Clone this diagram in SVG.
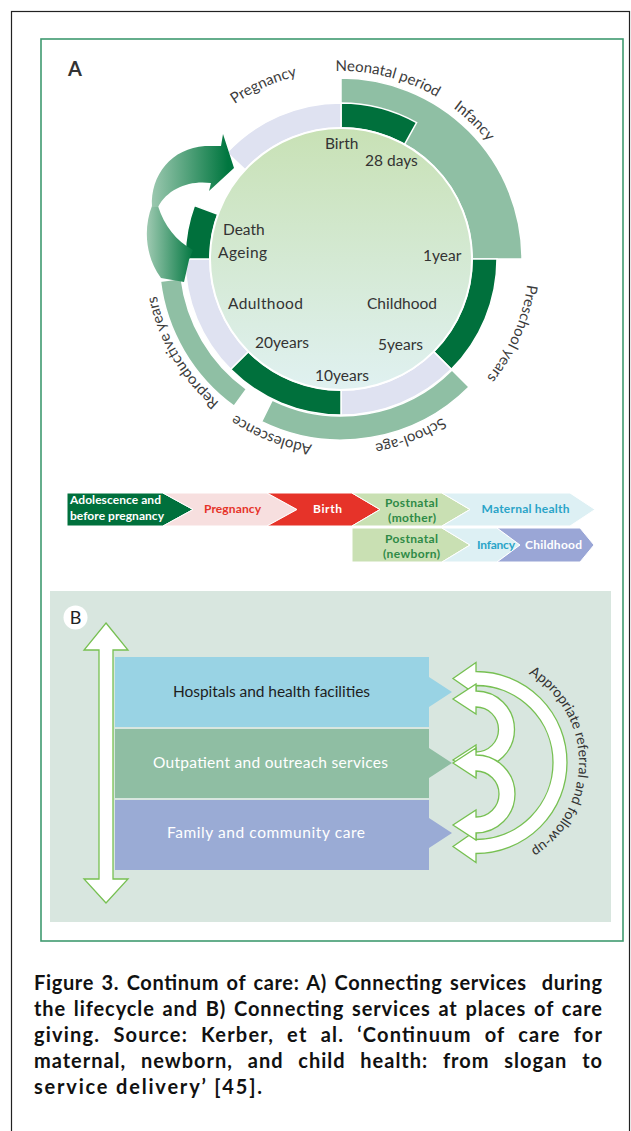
<svg xmlns="http://www.w3.org/2000/svg" width="631" height="1131" viewBox="0 0 631 1131">
<defs>
<style>
.ring{font-family:Lato,"Liberation Sans",sans-serif;font-size:15px;fill:#3c3c3c}
.inn{font-family:Lato,"Liberation Sans",sans-serif;font-size:15.5px;fill:#333}
.dk{fill:#00703c;stroke:#fff;stroke-width:1.5}
.sg{fill:#8fbfa4;stroke:#fff;stroke-width:1.5}
.lv{fill:#dfe2f1;stroke:#fff;stroke-width:1.5}
.bar{font-family:Lato,"Liberation Sans",sans-serif;font-weight:bold;font-size:12px}
.chev{stroke:#fff;stroke-width:1}
.wa{fill:#fff;stroke:#77c052;stroke-width:1.3;stroke-linejoin:miter}
.band{font-family:Lato,"Liberation Sans",sans-serif;font-size:15.5px}
.cap{font-family:Lato,"Liberation Sans",sans-serif;font-weight:bold;font-size:20px;fill:#111}
</style>
<linearGradient id="gIn" x1="0" y1="0" x2="0" y2="1">
<stop offset="0" stop-color="#c8e1b5"/>
<stop offset="1" stop-color="#e0f1f1"/>
</linearGradient>
<linearGradient id="gUp" gradientUnits="userSpaceOnUse" x1="150" y1="0" x2="228" y2="0">
<stop offset="0" stop-color="#9fcab2"/>
<stop offset="1" stop-color="#00763f"/>
</linearGradient>
<linearGradient id="gLo" gradientUnits="userSpaceOnUse" x1="145" y1="0" x2="194" y2="0">
<stop offset="0" stop-color="#a5cdb6"/>
<stop offset="1" stop-color="#00763f"/>
</linearGradient>
<path id="ringPath" d="M341,447 A188,188 0 1 1 341,71 A188,188 0 1 1 341,447"/>
<path id="refPath" d="M476,659.5 A103,103 0 0 1 476,865.5"/>
</defs>

<rect width="631" height="1131" fill="#fff"/>
<rect x="11.5" y="11.5" width="618" height="1140" fill="none" stroke="#222" stroke-width="1.2"/>
<rect x="41" y="39" width="582" height="902" fill="none" stroke="#3f9a70" stroke-width="1.6"/>

<g id="panelA">
<text x="68" y="76" font-family="Lato,'Liberation Sans',sans-serif" font-size="20" font-weight="bold" fill="#333">A</text>

<g id="rings">
<path class="sg" d="M341,78 A181,181 0 0 1 522,259 L472,259 A131,131 0 0 0 341,128 Z"/>
<path class="dk" d="M341,103 A156,156 0 0 1 416.6,122.6 L404.5,144.4 A131,131 0 0 0 341,128 Z"/>
<path class="dk" d="M497,259 A156,156 0 0 1 451.3,369.3 L433.6,351.6 A131,131 0 0 0 472,259 Z"/>
<path class="lv" d="M451.3,369.3 A156,156 0 0 1 341,415 L341,390 A131,131 0 0 0 433.6,351.6 Z"/>
<path class="dk" d="M341,415 A156,156 0 0 1 230.7,369.3 L248.4,351.6 A131,131 0 0 0 341,390 Z"/>
<path class="lv" d="M230.7,369.3 A156,156 0 0 1 185,259 L210,259 A131,131 0 0 0 248.4,351.6 Z"/>
<path class="dk" d="M185,259 A156,156 0 0 1 194.4,205.6 L217.9,214.2 A131,131 0 0 0 210,259 Z"/>
<path class="lv" d="M226.9,152.6 A156,156 0 0 1 341,103 L341,128 A131,131 0 0 0 245.2,169.7 Z"/>
<path class="sg" d="M469,387 A181,181 0 0 1 261.6,421.7 L272.2,400.1 A157,157 0 0 0 452,370 Z"/>
<path class="sg" d="M234,406.2 A182,182 0 0 1 160.4,281.2 L181.2,278.6 A161,161 0 0 0 246.4,389.2 Z"/>
</g>

<g id="cycleArrow">
<path fill="url(#gLo)" d="M152,206 C144,226 144,255 161,278 L184,282 L189,260 L193,250 C176,241 164,225 158,206 Z"/>
<path fill="url(#gUp)" d="M152,207 C150,175 172,148 205,146 L221,146 L223,134 L234,168 L209,191 L211,183 C190,180 168,188 158,207 Z"/>
</g>

<g id="innerCircle">
<circle cx="341" cy="259" r="131" fill="url(#gIn)" stroke="#fff" stroke-width="2"/>
<text class="inn" x="325" y="149">Birth</text>
<text class="inn" x="365" y="166">28 days</text>
<text class="inn" x="223" y="235">Death</text>
<text class="inn" x="218" y="258" letter-spacing="0.4">Ageing</text>
<text class="inn" x="423" y="261">1year</text>
<text class="inn" x="228" y="309" letter-spacing="0.4">Adulthood</text>
<text class="inn" x="367" y="309">Childhood</text>
<text class="inn" x="255" y="348">20years</text>
<text class="inn" x="378" y="350">5years</text>
<text class="inn" x="315" y="381">10years</text>
</g>

<g id="ringLabels">
<text class="ring" text-anchor="middle"><textPath href="#ringPath" startOffset="43.33%">Pregnancy</textPath></text>
<text class="ring" text-anchor="middle"><textPath href="#ringPath" startOffset="54.03%">Neonatal period</textPath></text>
<text class="ring" text-anchor="middle"><textPath href="#ringPath" startOffset="62.22%">Infancy</textPath></text>
<text class="ring" text-anchor="middle"><textPath href="#ringPath" startOffset="81.53%">Preschool years</textPath></text>
<text class="ring" text-anchor="middle"><textPath href="#ringPath" startOffset="94.03%">School-age</textPath></text>
<text class="ring" text-anchor="middle"><textPath href="#ringPath" startOffset="5.97%">Adolescence</textPath></text>
<text class="ring" text-anchor="middle"><textPath href="#ringPath" startOffset="16.53%">Reproductive years</textPath></text>
</g>
</g>

<g id="stageBar">
<g id="s-adol"><polygon class="chev" fill="#00703c" points="67,493 163,493 193,509.5 163,526 67,526"/>
<text class="bar" fill="#fff" x="70" y="504" textLength="91">Adolescence and</text>
<text class="bar" fill="#fff" x="70" y="520" textLength="94">before pregnancy</text></g>
<g id="s-preg"><polygon class="chev" fill="#f7dfdf" points="163,493 267,493 297,509.5 267,526 163,526 193,509.5"/>
<text class="bar" fill="#e63329" x="232.5" y="513" text-anchor="middle" textLength="57">Pregnancy</text></g>
<g id="s-birth"><polygon class="chev" fill="#e63329" points="267,493 352,493 380,509.5 352,526 267,526 297,509.5"/>
<text class="bar" fill="#fff" x="327.5" y="513" text-anchor="middle" textLength="29">Birth</text></g>
<g id="s-pnm"><polygon class="chev" fill="#c9e0b3" points="352,493 442,493 470,509.5 442,526 352,526 380,509.5"/>
<text class="bar" fill="#2e8a46" x="411.5" y="507" text-anchor="middle" textLength="53">Postnatal</text>
<text class="bar" fill="#2e8a46" x="412" y="522" text-anchor="middle" textLength="48">(mother)</text></g>
<g id="s-mat"><polygon class="chev" fill="#ddf0f4" points="442,493 570,493 595,509.5 570,526 442,526 470,509.5"/>
<text class="bar" fill="#2aa4c8" x="525.5" y="513" text-anchor="middle" textLength="88">Maternal health</text></g>
<g id="s-pnn"><polygon class="chev" fill="#c9e0b3" points="352,528 442,528 470,545 442,562 352,562"/>
<text class="bar" fill="#2e8a46" x="411.5" y="543" text-anchor="middle" textLength="53">Postnatal</text>
<text class="bar" fill="#2e8a46" x="411.5" y="558" text-anchor="middle" textLength="57">(newborn)</text></g>
<g id="s-inf"><polygon class="chev" fill="#ddf0f4" points="442,528 497,528 520,545 497,562 442,562 470,545"/>
<text class="bar" fill="#2aa4c8" x="496" y="549" text-anchor="middle" textLength="38">Infancy</text></g>
<g id="s-child"><polygon class="chev" fill="#9aa6d6" points="497,528 580,528 594,545 580,562 497,562 520,545"/>
<text class="bar" fill="#fff" x="553.5" y="549" text-anchor="middle" textLength="57">Childhood</text></g>
</g>

<g id="panelB">
<rect x="50" y="591" width="561" height="331" fill="#d8e6df"/>
<circle cx="75.5" cy="617.5" r="12" fill="#fff"/>
<text x="75.5" y="624" text-anchor="middle" font-family="Lato,'Liberation Sans',sans-serif" font-size="18" fill="#222">B</text>

<g id="hospitals"><polygon fill="#99d3e4" points="115,657 429,657 429,677 452,692 429,707 429,727 115,727"/>
<text class="band" fill="#1e1e1e" x="271.5" y="697" text-anchor="middle" textLength="197">Hospitals and health facilities</text></g>
<g id="outpatient"><polygon fill="#8fbea3" points="115,729 429,729 429,748 452,763 429,778 429,798 115,798"/>
<text class="band" fill="#fff" x="270.5" y="768" text-anchor="middle" textLength="235">Outpatient and outreach services</text></g>
<g id="family"><polygon fill="#9aabd5" points="115,800 429,800 429,818 452,833 429,848 429,870 115,870"/>
<text class="band" fill="#fff" x="266" y="838" text-anchor="middle" textLength="198">Family and community care</text></g>

<g id="connectors">
<path id="levelArrow" class="wa" d="M106,623 L128,650 L113,650 L113,879 L128,879 L106,903 L84,879 L99,879 L99,650 L84,650 Z"/>
<path id="bigArc" class="wa" d="M476,671.5 A91,91 0 0 1 476,853.5 L476,862.5 L453,846.5 L476,830.5 L476,839.5 A77,77 0 0 0 476,685.5 L476,694.5 L453,678.5 L476,662.5 Z"/>
<path id="upperArc" class="wa" d="M476,691 A38.5,38.5 0 0 1 476,768 L476,775 L453,760 L476,745 L476,752 A22.5,22.5 0 0 0 476,707 L476,714 L453,699 L476,684 Z"/>
<path id="lowerArc" class="wa" d="M476,755 A39,39 0 0 1 476,833 L476,840 L453,825 L476,810 L476,817 A23,23 0 0 0 476,771 L476,778 L453,763 L476,748 Z"/>
</g>
<text font-family="Lato,'Liberation Sans',sans-serif" font-size="14" fill="#333" text-anchor="middle"><textPath href="#refPath" startOffset="49.6%">Appropriate referral and follow-up</textPath></text>
</g>

<g id="caption">
<text class="cap" x="34" y="990" textLength="568" lengthAdjust="spacing" word-spacing="2">Figure 3. Continum of care: A) Connecting services&#160; during</text>
<text class="cap" x="34" y="1016" textLength="568" lengthAdjust="spacing" word-spacing="2">the lifecycle and B) Connecting services at places of care</text>
<text class="cap" x="34" y="1042" textLength="568" lengthAdjust="spacing" word-spacing="7">giving. Source: Kerber, et al. ‘Continuum of care for</text>
<text class="cap" x="34" y="1068" textLength="568" lengthAdjust="spacing" word-spacing="9">maternal, newborn, and child health: from slogan to</text>
<text class="cap" x="34" y="1094" textLength="228" lengthAdjust="spacing">service delivery’ [45].</text>
</g>
</svg>
